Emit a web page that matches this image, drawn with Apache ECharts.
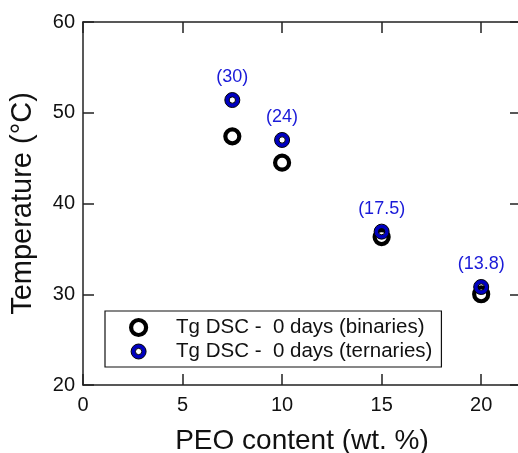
<!DOCTYPE html>
<html>
<head>
<meta charset="utf-8">
<script src="https://cdn.jsdelivr.net/npm/echarts@6/dist/echarts.min.js"></script>
<style>
  html, body { margin: 0; padding: 0; background: #fff; }
  #chart { width: 518px; height: 453px; }
</style>
</head>
<body>
<div id="chart"></div>
<script>
// PEO content (wt. %)
const peo = [7.5, 10, 15, 20];
// Tg DSC values (°C)
const tgBinaries = [47.4, 44.5, 36.3, 30.0];
const tgTernaries = [51.4, 47.0, 36.9, 30.8];
// numbers shown above the ternary points
const ternaryNotes = ['(30)', '(24)', '(17.5)', '(13.8)'];

const seriesNames = ['Tg DSC -  0 days (binaries)', 'Tg DSC -  0 days (ternaries)'];

// ring shape: outer circle + inner hole (opposite winding)
const ringPath = 'path://M-10,0 A10,10 0 1,0 10,0 A10,10 0 1,0 -10,0 Z M-4.2,0 A4.2,4.2 0 1,1 4.2,0 A4.2,4.2 0 1,1 -4.2,0 Z';

const font = 'Liberation Sans, Arial, Helvetica, sans-serif';
const axisColor = '#222';
const blue = '#0000c0';

const chart = echarts.init(document.getElementById('chart'));

// left/bottom axes carry labels; their ticks are flipped with a negative length
function ticks(flip) {
  return { show: true, inside: !flip, length: flip ? -11 : 11, lineStyle: { color: axisColor, width: 1.5 } };
}
function line() {
  return { show: true, onZero: false, lineStyle: { color: axisColor, width: 1.5 } };
}

chart.setOption({
  animation: false,
  backgroundColor: '#fff',
  textStyle: { fontFamily: font },
  grid: { left: 83, right: -3, top: 22, bottom: 68, containLabel: false, outerBoundsMode: 'none' },
  legend: {
    orient: 'vertical',
    left: 105,
    top: 311,
    padding: [6, 9, 5, 24],
    itemGap: 3,
    itemWidth: 15,
    itemHeight: 15,
    borderColor: '#111',
    borderWidth: 1.2,
    backgroundColor: '#fff',
    textStyle: { fontSize: 20.5, lineHeight: 18, color: '#111', padding: [0, 0, 0, 25], fontFamily: font },
    data: [
      { name: seriesNames[0], icon: 'circle', itemStyle: { color: '#fff', borderColor: '#000', borderWidth: 4.2, opacity: 1 } },
      { name: seriesNames[1], icon: ringPath, itemStyle: { color: blue, borderColor: '#000', borderWidth: 1, opacity: 1 } }
    ]
  },
  xAxis: [
    {
      type: 'value', min: 0, max: 22, interval: 5, position: 'bottom',
      name: 'PEO content (wt. %)', nameLocation: 'middle', nameGap: 42,
      nameTextStyle: { fontSize: 28, color: '#111', fontFamily: font },
      axisLine: line(),
      axisTick: ticks(true),
      axisLabel: { fontSize: 20, color: '#111', margin: 10, showMaxLabel: false },
      splitLine: { show: false }
    },
    {
      type: 'value', min: 0, max: 22, interval: 5, position: 'top',
      axisLine: line(),
      axisTick: ticks(false),
      axisLabel: { show: false },
      splitLine: { show: false }
    }
  ],
  yAxis: [
    {
      type: 'value', min: 20, max: 60, interval: 10, position: 'left',
      name: 'Temperature (°C)', nameLocation: 'middle', nameGap: 46,
      nameTextStyle: { fontSize: 29, color: '#111', fontFamily: font },
      axisLine: line(),
      axisTick: ticks(true),
      axisLabel: { fontSize: 20, color: '#111', margin: 8 },
      splitLine: { show: false }
    },
    {
      type: 'value', min: 20, max: 60, interval: 10, position: 'right',
      axisLine: line(),
      axisTick: ticks(false),
      axisLabel: { show: false },
      splitLine: { show: false }
    }
  ],
  series: [
    {
      name: seriesNames[0],
      type: 'scatter',
      symbol: 'circle',
      symbolSize: 14,
      itemStyle: { color: '#fff', borderColor: '#000', borderWidth: 4.2, opacity: 1 },
      data: peo.map((x, i) => [x, tgBinaries[i]]),
      z: 2
    },
    {
      name: seriesNames[1],
      type: 'scatter',
      symbol: ringPath,
      symbolSize: 15,
      itemStyle: { color: blue, borderColor: '#000', borderWidth: 1, opacity: 1 },
      label: {
        show: true,
        position: 'top',
        distance: 6,
        fontSize: 18,
        color: '#1a1ad8',
        fontFamily: font,
        formatter: p => ternaryNotes[p.dataIndex]
      },
      data: peo.map((x, i) => [x, tgTernaries[i]]),
      z: 3
    }
  ]
});
</script>
</body>
</html>
